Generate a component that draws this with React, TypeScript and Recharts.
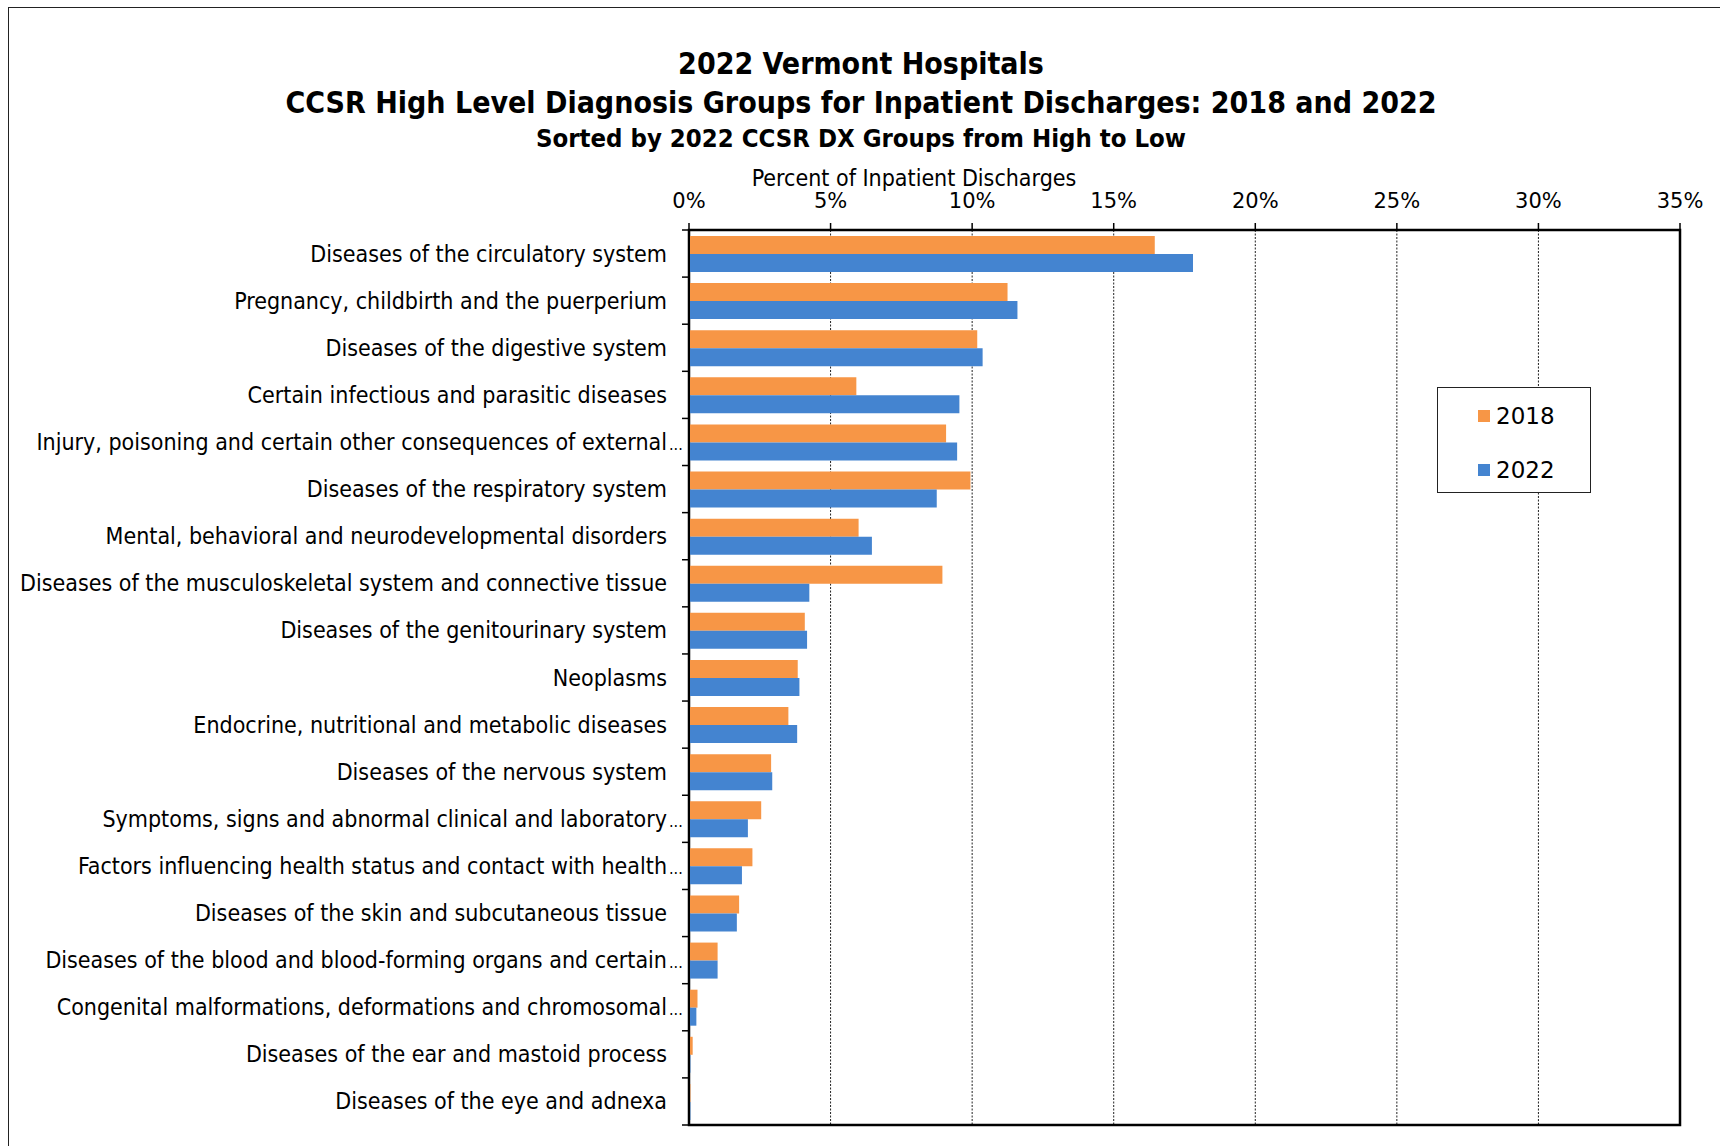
import React from 'react';
import { BarChart, Bar, XAxis, YAxis, CartesianGrid, ReferenceArea } from 'recharts';

// CCSR high level groups, sorted by the 2022 share
const categories = [
  'Diseases of the circulatory system',
  'Pregnancy, childbirth and the puerperium',
  'Diseases of the digestive system',
  'Certain infectious and parasitic diseases',
  'Injury, poisoning and certain other consequences of external...',
  'Diseases of the respiratory system',
  'Mental, behavioral and neurodevelopmental disorders',
  'Diseases of the musculoskeletal system and connective tissue',
  'Diseases of the genitourinary system',
  'Neoplasms',
  'Endocrine, nutritional and metabolic diseases',
  'Diseases of the nervous system',
  'Symptoms, signs and abnormal clinical and laboratory...',
  'Factors influencing health status and contact with health...',
  'Diseases of the skin and subcutaneous tissue',
  'Diseases of the blood and blood-forming organs and certain...',
  'Congenital malformations, deformations and chromosomal...',
  'Diseases of the ear and mastoid process',
  'Diseases of the eye and adnexa',
];

// percent of inpatient discharges
const share2018 = [16.45, 11.25, 10.18, 5.91, 9.08, 9.94, 5.99, 8.95, 4.09, 3.84, 3.51, 2.9, 2.55, 2.24, 1.77, 1.01, 0.3, 0.13, 0.05];
const share2022 = [17.8, 11.6, 10.37, 9.55, 9.47, 8.75, 6.46, 4.25, 4.17, 3.9, 3.82, 2.94, 2.08, 1.87, 1.69, 1.01, 0.26, 0.05, 0.05];

const xTicks = [0, 5, 10, 15, 20, 25, 30, 35];
const seriesNames = ['2018', '2022'];
const seriesKeys = ['y2018', 'y2022'];
const seriesColors = ['#F79646', '#4484D0'];

const chartData = categories.map((name, i) => ({
  name,
  y2018: share2018[i],
  y2022: share2022[i],
}));

const W = 1720;
const H = 1146;
const PLOT_LEFT = 689;
const PLOT_TOP = 230;
const PLOT_BOTTOM = 1125;
const BAND = (PLOT_BOTTOM - PLOT_TOP) / categories.length;

const labelFont = "'DejaVu Sans Condensed', 'DejaVu Sans', sans-serif";
const plainFont = "'DejaVu Sans', sans-serif";

const CategoryTick = (props: any) => {
  const { y, payload, index } = props;
  const raw: string = payload.value;
  const cut = raw.endsWith('...');
  const label = cut ? raw.slice(0, -3) : raw;
  const half = BAND / 2;
  return (
    <g>
      <line x1={PLOT_LEFT - 7} x2={PLOT_LEFT} y1={y - half} y2={y - half} stroke="#000" strokeWidth={1.5} />
      {index === categories.length - 1 && (
        <line x1={PLOT_LEFT - 7} x2={PLOT_LEFT} y1={y + half} y2={y + half} stroke="#000" strokeWidth={1.5} />
      )}
      <text
        x={667}
        y={y + 8}
        textAnchor="end"
        fontFamily={labelFont}
        fontStretch="condensed"
        fontSize={23}
        fill="#000"
      >
        {label}
      </text>
      {cut && (
        <text x={669} y={y + 8} fontFamily={labelFont} fontSize={16} fill="#000">
          ...
        </text>
      )}
    </g>
  );
};

const PercentTick = (props: any) => {
  const { x, y, payload } = props;
  return (
    <text x={x} y={y} textAnchor="middle" fontFamily={plainFont} fontSize={21} fill="#000">
      {payload.value}%
    </text>
  );
};

const App: React.FC = () => {
  return (
    <div
      style={{
        position: 'absolute',
        left: 0,
        top: 0,
        width: W,
        height: H,
        overflow: 'hidden',
        background: '#fff',
      }}
    >
      {/* outer chart-area border, clipped on the right and bottom */}
      <div
        style={{
          position: 'absolute',
          left: 8,
          top: 7,
          width: 1900,
          height: 1400,
          border: '1.5px solid #222',
        }}
      />

      <BarChart
        width={W}
        height={H}
        data={chartData}
        layout="vertical"
        margin={{ top: PLOT_TOP - 40, right: 40, bottom: H - PLOT_BOTTOM, left: 0 }}
        barCategoryGap={6}
        barGap={0}
      >
        <CartesianGrid horizontal={false} vertical stroke="#222" strokeDasharray="2 1.5" />
        <XAxis
          type="number"
          orientation="top"
          domain={[0, 35]}
          ticks={xTicks}
          height={40}
          tickSize={7}
          tickMargin={15}
          tickLine={{ stroke: '#000', strokeWidth: 1.5 }}
          axisLine={{ stroke: '#000', strokeWidth: 2 }}
          tick={<PercentTick />}
          interval={0}
        />
        <YAxis
          type="category"
          dataKey="name"
          width={PLOT_LEFT}
          tickLine={false}
          axisLine={{ stroke: '#000', strokeWidth: 2 }}
          tick={<CategoryTick />}
          interval={0}
        />
        {seriesKeys.map((k, i) => (
          <Bar key={k} dataKey={k} name={seriesNames[i]} fill={seriesColors[i]} isAnimationActive={false} />
        ))}
        {/* plot frame */}
        <ReferenceArea x1={0} x2={35} fill="none" fillOpacity={0} stroke="#000" strokeWidth={2.5} />
      </BarChart>

      {/* titles */}
      <svg
        width={W}
        height={200}
        style={{ position: 'absolute', left: 0, top: 0, pointerEvents: 'none' }}
      >
        <g fontFamily={labelFont} fontStretch="condensed" fontWeight="bold" fill="#000" textAnchor="middle">
          <text x={861} y={74} fontSize={30}>2022 Vermont Hospitals</text>
          <text x={861} y={113} fontSize={30}>
            CCSR High Level Diagnosis Groups for Inpatient Discharges: 2018 and 2022
          </text>
          <text x={861} y={147} fontSize={25.5}>Sorted by 2022 CCSR DX Groups from High to Low</text>
        </g>
        <text
          x={914}
          y={186}
          textAnchor="middle"
          fontFamily={labelFont}
          fontStretch="condensed"
          fontSize={23}
          fill="#000"
        >
          Percent of Inpatient Discharges
        </text>
      </svg>

      {/* legend */}
      <div
        style={{
          position: 'absolute',
          left: 1437,
          top: 387,
          width: 152,
          height: 104,
          border: '1.5px solid #222',
          background: '#fff',
          fontFamily: plainFont,
          fontSize: 23,
          color: '#000',
        }}
      >
        {seriesNames.map((n, i) => (
          <div
            key={n}
            style={{
              position: 'absolute',
              left: 40,
              top: 15 + i * 54,
              height: 26,
              display: 'flex',
              alignItems: 'center',
            }}
          >
            <span
              style={{
                display: 'inline-block',
                width: 12,
                height: 12,
                background: seriesColors[i],
                marginRight: 6,
              }}
            />
            <span style={{ lineHeight: '26px' }}>{n}</span>
          </div>
        ))}
      </div>
    </div>
  );
};

export default App;
